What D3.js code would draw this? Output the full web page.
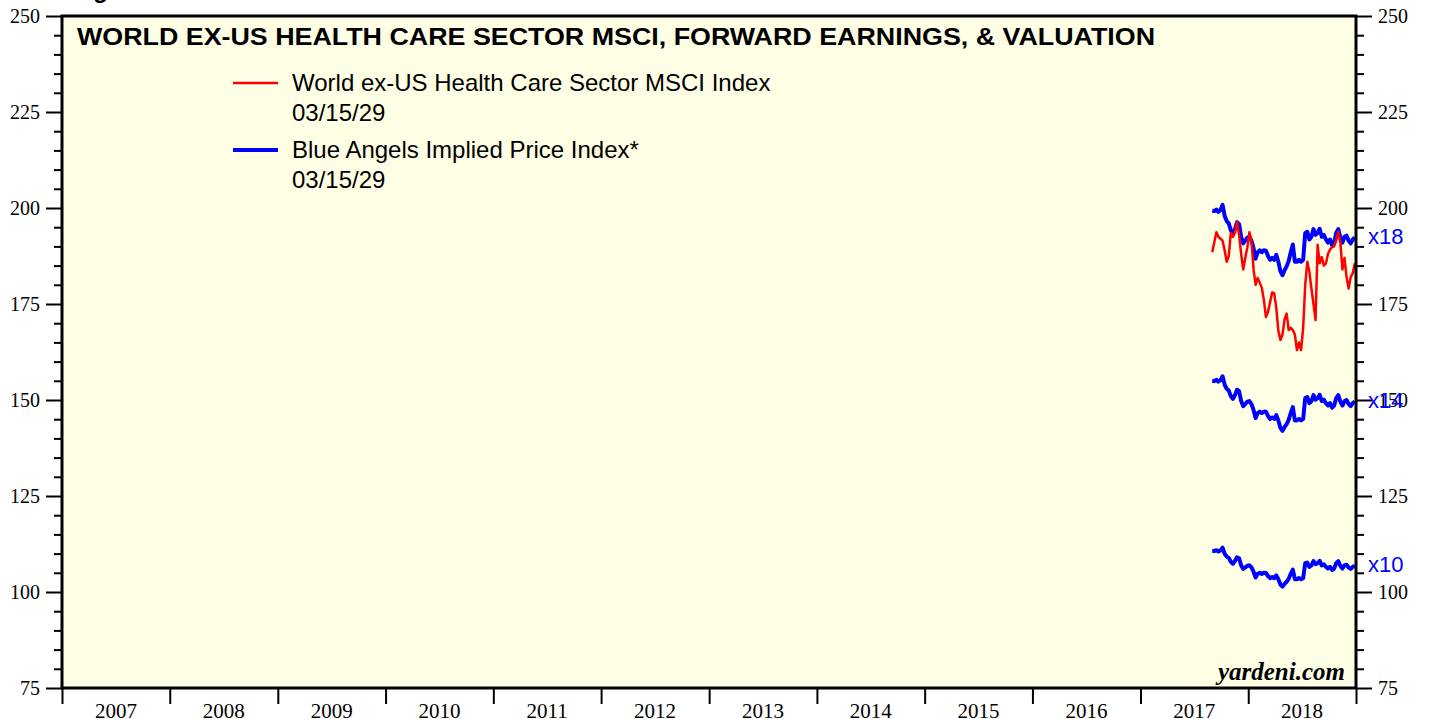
<!DOCTYPE html>
<html>
<head>
<meta charset="utf-8">
<script src="https://cdn.jsdelivr.net/npm/d3@7"></script>
<style>
  html, body { margin: 0; padding: 0; background: #ffffff; }
  svg { display: block; }
</style>
</head>
<body>
<svg id="chart" width="1432" height="719"></svg>
<script>
// ---------------- DATA ----------------
const title = "WORLD EX-US HEALTH CARE SECTOR MSCI, FORWARD EARNINGS, & VALUATION";
const legendLabels = ["World ex-US Health Care Sector MSCI Index", "Blue Angels Implied Price Index*"];
const legendDates = ["03/15/29", "03/15/29"];
const yearLabels = ["2007","2008","2009","2010","2011","2012","2013","2014","2015","2016","2017","2018"];
const yTicks = [75, 100, 125, 150, 175, 200, 225, 250];
const firstWeek = "2017-09-01";   // weekly observations start here

// World ex-US Health Care Sector MSCI Index (weekly)
const msciIndex = [
  188.5, 191.0, 193.7, 192.5, 192.0, 191.5, 189.0, 186.0, 187.5, 193.5,
  192.5, 193.5, 196.4, 193.0, 188.0, 184.0, 187.0, 189.8, 193.7, 191.5,
  184.0, 180.0, 181.8, 180.5, 179.2, 176.0, 171.6, 173.0, 175.5, 178.0,
  177.8, 174.0, 168.0, 165.6, 167.0, 171.0, 172.5, 168.2, 168.8, 168.2,
  167.0, 163.0, 165.0, 163.0, 168.8, 180.0, 186.0, 183.4, 179.0, 175.0,
  170.8, 190.4, 185.6, 187.2, 185.0, 185.5, 188.0, 189.2, 189.8, 190.0,
  191.5, 193.8, 191.0, 184.0, 187.0, 182.0, 179.0, 182.0, 183.0, 185.6
];

// Blue Angels implied price index at an 18x forward P/E (weekly)
const impliedAt18x = [
  199.3, 199.2, 199.6, 199.0, 199.5, 200.8, 198.0, 196.6, 196.0, 194.2,
  193.2, 194.5, 196.3, 195.8, 192.5, 190.8, 191.5, 192.3, 192.5, 191.5,
  189.5, 186.8, 188.5, 189.0, 188.5, 189.0, 188.9, 187.5, 186.5, 187.0,
  186.5, 187.8, 186.0, 183.5, 182.5, 183.8, 184.8, 186.2, 188.5, 190.5,
  186.0, 186.0, 186.5, 186.0, 186.5, 193.5, 193.8, 191.8, 192.5, 194.5,
  193.0, 193.5, 194.6, 192.5, 193.0, 191.8, 191.0, 191.8, 190.3, 191.0,
  193.5, 194.5, 192.3, 191.0, 192.5, 192.8, 191.5, 190.8, 191.8, 192.3
];
const multiples = [18, 14, 10];

// ---------------- LAYOUT ----------------
const svg = d3.select("#chart");
const m = { left: 62, right: 1356, top: 16, bottom: 688 };

const x = d3.scaleTime()
  .domain([new Date(2007, 0, 1), new Date(2019, 0, 1)])
  .range([m.left, m.right]);
const y = d3.scaleLinear().domain([75, 250]).range([m.bottom, m.top]);

const start = d3.timeParse("%Y-%m-%d")(firstWeek);
const dates = msciIndex.map((_, i) => d3.timeWeek.offset(start, i));

const serif = "Liberation Serif, Times New Roman, serif";
const sans = "Liberation Sans, Arial, sans-serif";

// Partially clipped figure label at very top
svg.append("text")
  .attr("x", 72).attr("y", -2)
  .attr("font-family", sans)
  .attr("font-weight", "bold").attr("font-size", 24)
  .attr("fill", "#000").text("Figure 1.");

// Plot background
svg.append("rect")
  .attr("x", m.left).attr("y", m.top)
  .attr("width", m.right - m.left).attr("height", m.bottom - m.top)
  .attr("fill", "#ffffe6");

// Y axes (left & right) with minor ticks every 5
const minorTicks = d3.range(75, 251, 5).filter(v => v % 25 !== 0);

const leftMajor = d3.axisLeft(y).tickValues(yTicks).tickSize(16).tickPadding(6).tickFormat(d3.format("d"));
const leftMinor = d3.axisLeft(y).tickValues(minorTicks).tickSize(8).tickFormat("");
const rightMajor = d3.axisRight(y).tickValues(yTicks).tickSize(16).tickPadding(6).tickFormat(d3.format("d"));
const rightMinor = d3.axisRight(y).tickValues(minorTicks).tickSize(8).tickFormat("");

function styleAxis(g) {
  g.select(".domain").remove();
  g.selectAll(".tick line").attr("stroke", "#000").attr("stroke-width", 2);
  g.selectAll(".tick text").attr("font-family", serif).attr("font-size", 20).attr("fill", "#000");
}
svg.append("g").attr("transform", `translate(${m.left},0)`).call(leftMajor).call(styleAxis);
svg.append("g").attr("transform", `translate(${m.left},0)`).call(leftMinor).call(styleAxis);
svg.append("g").attr("transform", `translate(${m.right},0)`).call(rightMajor).call(styleAxis);
svg.append("g").attr("transform", `translate(${m.right},0)`).call(rightMinor).call(styleAxis);

// X axis: year boundary ticks, labels centered within years
const yearStarts = d3.range(2007, 2020).map(yr => new Date(yr, 0, 1));
const xAxis = d3.axisBottom(x).tickValues(yearStarts).tickSize(16).tickFormat("");
svg.append("g").attr("transform", `translate(0,${m.bottom})`).call(xAxis).call(styleAxis);
svg.append("g").selectAll("text").data(yearLabels).join("text")
  .attr("x", d => (x(new Date(+d, 0, 1)) + x(new Date(+d + 1, 0, 1))) / 2)
  .attr("y", 718)
  .attr("text-anchor", "middle")
  .attr("font-family", serif).attr("font-size", 21).attr("fill", "#000")
  .text(d => d);

// Lines
const line = d3.line().x((d, i) => x(dates[i])).y(d => y(d));

multiples.forEach(mult => {
  const vals = impliedAt18x.map(v => v / 18 * mult);
  svg.append("path").datum(vals)
    .attr("d", line).attr("fill", "none")
    .attr("stroke", "#0000ff").attr("stroke-width", 4)
    .attr("stroke-linejoin", "round");
  svg.append("text")
    .attr("x", m.right + 12).attr("y", y(vals[vals.length - 1]))
    .attr("dy", "0.3em")
    .attr("font-family", sans).attr("font-size", 22)
    .attr("fill", "#0000ff").text("x" + mult);
});

svg.append("path").datum(msciIndex)
  .attr("d", line).attr("fill", "none")
  .attr("stroke", "#ff0000").attr("stroke-width", 2.5)
  .attr("stroke-linejoin", "round");

// Frame
svg.append("rect")
  .attr("x", m.left).attr("y", m.top)
  .attr("width", m.right - m.left).attr("height", m.bottom - m.top)
  .attr("fill", "none").attr("stroke", "#000").attr("stroke-width", 3);

// Title
svg.append("text")
  .attr("x", 77).attr("y", 45)
  .attr("font-family", sans)
  .attr("font-weight", "bold").attr("font-size", 24)
  .attr("textLength", 1078).attr("lengthAdjust", "spacingAndGlyphs")
  .attr("fill", "#000").text(title);

// Legend
const legendColors = ["#ff0000", "#0000ff"];
const legendWidths = [2.5, 4];
const legendY = [83, 150];
legendLabels.forEach((lab, i) => {
  svg.append("line")
    .attr("x1", 233).attr("x2", 278)
    .attr("y1", legendY[i]).attr("y2", legendY[i])
    .attr("stroke", legendColors[i]).attr("stroke-width", legendWidths[i]);
  svg.append("text")
    .attr("x", 292).attr("y", legendY[i]).attr("dy", "0.35em")
    .attr("font-family", sans).attr("font-size", 24).attr("fill", "#000")
    .text(lab);
  svg.append("text")
    .attr("x", 292).attr("y", legendY[i] + 30).attr("dy", "0.35em")
    .attr("font-family", sans).attr("font-size", 24).attr("fill", "#000")
    .text(legendDates[i]);
});

// Source
svg.append("text")
  .attr("x", 1345).attr("y", 680)
  .attr("text-anchor", "end")
  .attr("font-family", serif).attr("font-style", "italic").attr("font-weight", "bold")
  .attr("font-size", 25).attr("fill", "#000")
  .text("yardeni.com");
</script>
</body>
</html>
